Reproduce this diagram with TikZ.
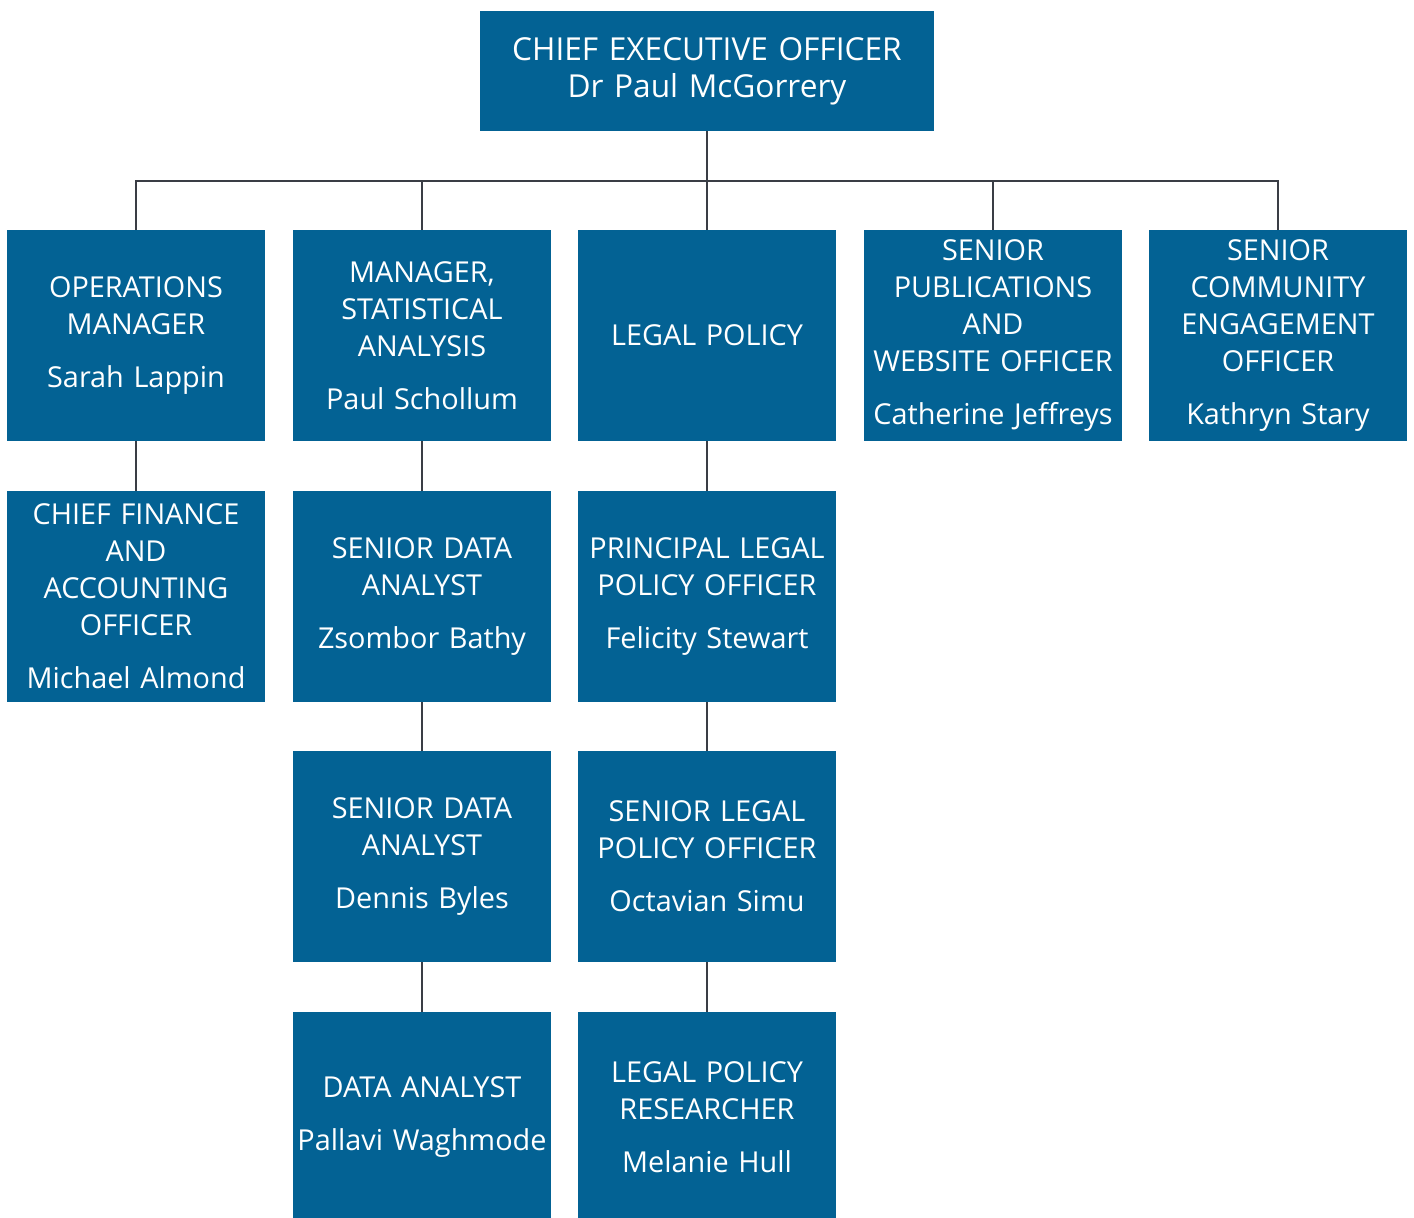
\documentclass[tikz,border=0pt]{standalone}
\usepackage{fontspec}
\setmainfont{Open Sans}
\usepackage{tikz}
\usetikzlibrary{positioning,calc}
\usepackage{xcolor}
\definecolor{postblue}{RGB}{3,98,148}
\definecolor{linkgray}{RGB}{58,61,69}

\begin{document}
\begin{tikzpicture}[x=0.025cm,y=-0.025cm,
    post/.style={fill=postblue,text=white,inner sep=0pt,align=center,
        text width=6.45cm,minimum width=6.45cm,minimum height=5.275cm,
        font=\fontsize{20.5}{26.3}\selectfont},
    link/.style={draw=linkgray,line width=1.8pt}]
    \useasboundingbox (0,0) rectangle (1414,1217);
    % top
    \node[post,text width=11.35cm,minimum width=11.35cm,minimum height=3cm,
        font=\fontsize{22.5}{26.3}\selectfont] (ceo) at (707,71)
        {CHIEF EXECUTIVE OFFICER\\Dr Paul McGorrery};
    % first row
    \node[post] (ops) at (136,335.5) {OPERATIONS\\MANAGER\\[0.4cm]Sarah Lappin};
    \node[post] (stat) at (422,335.5) {MANAGER,\\STATISTICAL\\ANALYSIS\\[0.4cm]Paul Schollum};
    \node[post] (legal) at (707,335.5) {LEGAL POLICY};
    \node[post] (pub) at (993,335.5) {SENIOR\\PUBLICATIONS\\AND\\WEBSITE OFFICER\\[0.4cm]Catherine Jeffreys};
    \node[post] (comm) at (1278,335.5) {SENIOR\\COMMUNITY\\ENGAGEMENT\\OFFICER\\[0.4cm]Kathryn Stary};
    % second row
    \node[post] (cfo) at (136,596.5) {CHIEF FINANCE\\AND\\ACCOUNTING\\OFFICER\\[0.4cm]Michael Almond};
    \node[post] (sda1) at (422,596.5) {SENIOR DATA\\ANALYST\\[0.4cm]Zsombor Bathy};
    \node[post] (plpo) at (707,596.5) {PRINCIPAL LEGAL\\POLICY OFFICER\\[0.4cm]Felicity Stewart};
    % third row
    \node[post] (sda2) at (422,856.5) {SENIOR DATA\\ANALYST\\[0.4cm]Dennis Byles};
    \node[post] (slpo) at (707,856.5) {SENIOR LEGAL\\POLICY OFFICER\\[0.4cm]Octavian Simu};
    % fourth row
    \node[post] (da) at (422,1117.5) {DATA ANALYST\\[0.4cm]Pallavi Waghmode};
    \node[post] (lpr) at (707,1117.5) {LEGAL POLICY\\RESEARCHER\\[0.4cm]Melanie Hull};

    % links
    \coordinate (bus) at (707,181);
    \draw[link] (ceo.south) -- (bus);
    \draw[link] (ops.north) -- (ops.north |- bus) -- (comm.north |- bus) -- (comm.north);
    \foreach \n in {stat,legal,pub}
        \draw[link] (\n.north) -- (\n.north |- bus);
    \draw[link] (ops) -- (cfo);
    \draw[link] (stat) -- (sda1);
    \draw[link] (sda1) -- (sda2);
    \draw[link] (sda2) -- (da);
    \draw[link] (legal) -- (plpo);
    \draw[link] (plpo) -- (slpo);
    \draw[link] (slpo) -- (lpr);
\end{tikzpicture}
\end{document}
